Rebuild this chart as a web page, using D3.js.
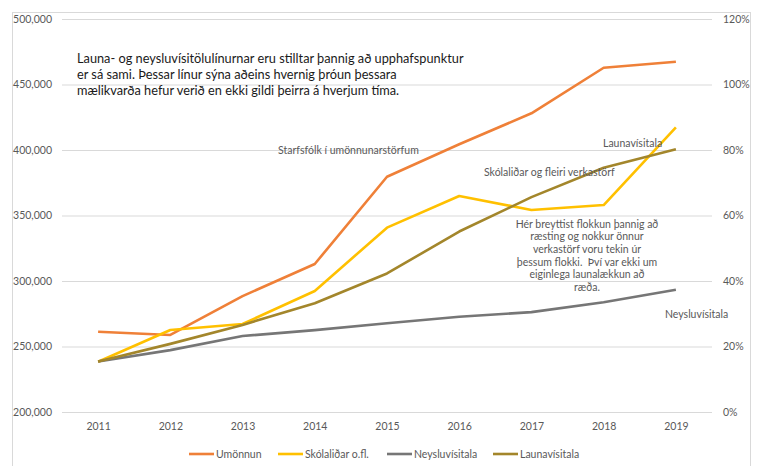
<!DOCTYPE html>
<html>
<head>
<meta charset="utf-8">
<script src="https://cdn.jsdelivr.net/npm/d3@7"></script>
<style>
  body { margin: 0; background: #fff; }
  text { font-family: Lato, "Open Sans", sans-serif; white-space: pre; }
</style>
</head>
<body>
<div id="chart"></div>
<script>
const years = ["2011", "2012", "2013", "2014", "2015", "2016", "2017", "2018", "2019"]
// kr. (left axis)
const umonnun = [261300, 258800, 288500, 313000, 379600, 404400, 428000, 462800, 467400]
const skolalidar = [238400, 262600, 267200, 292400, 340700, 364900, 354200, 358000, 417300]
// index, share (right axis)
const neysluvisitala = [0.154, 0.189, 0.232, 0.250, 0.271, 0.291, 0.305, 0.335, 0.373]
const launavisitala = [0.154, 0.208, 0.266, 0.332, 0.423, 0.551, 0.656, 0.746, 0.802]
const leftTicks = [200000, 250000, 300000, 350000, 400000, 450000, 500000]
const rightTicks = [0, 0.2, 0.4, 0.6, 0.8, 1.0, 1.2]

const width = 760, height = 466
const plot = {left: 62, right: 712, top: 19, bottom: 412}
const labelColor = "#595959"

const series = [
    {name: "Umönnun", values: umonnun, axis: "left", color: "#EF8038"},
    {name: "Skólaliðar o.fl.", values: skolalidar, axis: "left", color: "#FFC000"},
    {name: "Neysluvísitala", values: neysluvisitala, axis: "right", color: "#767676"},
    {name: "Launavísitala", values: launavisitala, axis: "right", color: "#A3862B"}
]

const xScale = d3.scalePoint().domain(years).range([plot.left, plot.right]).padding(0.5)
const yLeft = d3.scaleLinear().domain([200000, 500000]).range([plot.bottom, plot.top])
const yRight = d3.scaleLinear().domain([0, 1.2]).range([plot.bottom, plot.top])

const svg = d3.select("#chart").append("svg")
    .attr("width", width)
    .attr("height", height)

// chart area border
svg.append("rect")
    .attr("x", 12.5).attr("y", 12.5)
    .attr("width", 738).attr("height", 480)
    .attr("fill", "none")
    .attr("stroke", "#d9d9d9")

// gridlines + left axis
const gLeft = svg.append("g")
    .attr("transform", "translate(" + plot.left + ",0)")
    .call(d3.axisLeft(yLeft).tickValues(leftTicks).tickFormat(d3.format(",")).tickSize(-(plot.right - plot.left)).tickPadding(10))
gLeft.select(".domain").remove()
gLeft.selectAll(".tick line").attr("stroke", "#d9d9d9")
gLeft.selectAll(".tick text").attr("fill", labelColor).style("font-size", "10.5px")

// right axis
const gRight = svg.append("g")
    .attr("transform", "translate(" + plot.right + ",0)")
    .call(d3.axisRight(yRight).tickValues(rightTicks).tickFormat(d3.format(".0%")).tickSize(0).tickPadding(11))
gRight.select(".domain").remove()
gRight.selectAll(".tick text").attr("fill", labelColor).style("font-size", "10.5px")

// x axis
const gX = svg.append("g")
    .attr("transform", "translate(0," + plot.bottom + ")")
    .call(d3.axisBottom(xScale).tickSize(0).tickPadding(11))
gX.select(".domain").remove()
gX.selectAll(".tick text").attr("fill", labelColor).style("font-size", "10.5px")

// lines
series.forEach(s => {
    const yScale = s.axis == "left" ? yLeft : yRight
    const line = d3.line()
        .x((d, i) => xScale(years[i]))
        .y(d => yScale(d))
    svg.append("path")
        .datum(s.values)
        .attr("d", line)
        .attr("fill", "none")
        .attr("stroke", s.color)
        .attr("stroke-width", 2.6)
        .attr("stroke-linejoin", "round")
})

// legend
const legendX = [189, 278, 387, 493]
series.forEach((s, i) => {
    const g = svg.append("g").attr("transform", "translate(" + legendX[i] + ",454)")
    g.append("line")
        .attr("x1", 0).attr("x2", 25)
        .attr("stroke", s.color).attr("stroke-width", 2.6)
    g.append("text")
        .attr("x", 27).attr("dy", "0.35em")
        .attr("fill", labelColor)
        .style("font-size", "10.5px")
        .text(s.name)
})

// notes
const mainNote = [
    "Launa- og neysluvísitölulínurnar eru stilltar þannig að upphafspunktur",
    "er sá sami. Þessar línur sýna aðeins hvernig þróun þessara",
    "mælikvarða hefur verið en ekki gildi þeirra á hverjum tíma."
]
svg.append("text")
    .attr("x", 77).attr("y", 59)
    .attr("fill", "#1a1a1a")
    .style("font-size", "12.75px")
    .selectAll("tspan")
    .data(mainNote)
    .enter().append("tspan")
    .attr("x", 77)
    .attr("dy", (d, i) => i == 0 ? "0.35em" : "16px")
    .text(d => d)

function label(x, y, txt, anchor) {
    svg.append("text")
        .attr("x", x).attr("y", y)
        .attr("dy", "0.35em")
        .attr("text-anchor", anchor || "start")
        .attr("fill", labelColor)
        .style("font-size", "10.5px")
        .text(txt)
}
label(278, 150, "Starfsfólk í umönnunarstörfum")
label(603, 143, "Launavísitala")
label(484, 172, "Skólaliðar og fleiri verkastörf")
label(665, 314, "Neysluvísitala")

const changeNote = [
    "Hér breyttist flokkun þannig að",
    "ræsting og nokkur önnur",
    "verkastörf voru tekin úr",
    "þessum flokki.  Því var ekki um",
    "eiginlega launalækkun að",
    "ræða."
]
changeNote.forEach((t, i) => label(587, 224 + i * 12.7, t, "middle"))
</script>
</body>
</html>
